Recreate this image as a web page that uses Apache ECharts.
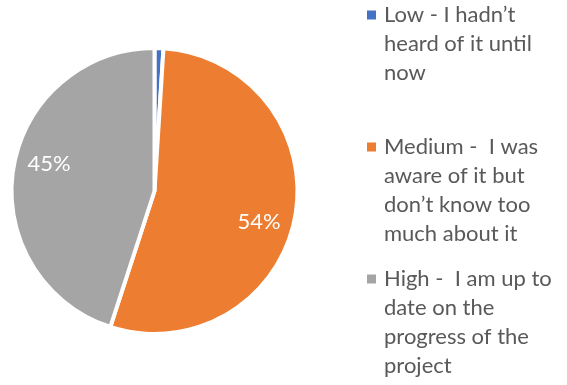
<!DOCTYPE html>
<html>
<head>
<meta charset="utf-8">
<script src="https://cdn.jsdelivr.net/npm/echarts@6/dist/echarts.min.js"></script>
<style>
  html, body { margin: 0; padding: 0; background: #ffffff; }
  #chart { width: 567px; height: 385px; }
</style>
</head>
<body>
<div id="chart"></div>
<script>
// Awareness categories, as worded in the legend
const categories = [
  'Low - I hadn\u2019t\nheard of it until\nnow',
  'Medium -  I was\naware of it but\ndon\u2019t know too\nmuch about it',
  'High -  I am up to\ndate on the\nprogress of the\nproject'
];
// Share of responses, percent
const shares = [1, 54, 45];
// Slice colours
const colors = ['#4472C4', '#ED7D31', '#A5A5A5'];
// Which slices carry a percentage label
const showPercent = [false, true, true];

const FONT = 'Lato';
const FONT_SIZE = 22;
const LINE_H = 29;
const legendTops = [4, 136, 268];

const chart = echarts.init(document.getElementById('chart'), null, { renderer: 'canvas' });

const pieData = categories.map((name, i) => ({
  name: name,
  value: shares[i],
  itemStyle: { color: colors[i] }
}));

const labelData = categories.map((name, i) => ({
  name: name,
  value: shares[i],
  label: { show: showPercent[i] }
}));

// One legend block per category so the marker sits beside the first line
const legends = categories.map((name, i) => {
  const lines = name.split('\n').length;
  return {
    data: [name],
    orient: 'vertical',
    left: 367,
    top: legendTops[i],
    padding: 0,
    itemWidth: 9,
    itemHeight: 9,
    icon: 'rect',
    itemStyle: { borderWidth: 0 },
    selectedMode: false,
    formatter: n => '{t|' + n + '}',
    textStyle: {
      fontFamily: FONT,
      fontSize: FONT_SIZE,
      color: '#595959',
      padding: [(lines - 1) * LINE_H, 0, 0, 3],
      rich: {
        t: { fontFamily: FONT, fontSize: FONT_SIZE, lineHeight: LINE_H, color: '#595959' }
      }
    }
  };
});

chart.setOption({
  animation: false,
  backgroundColor: '#ffffff',
  legend: legends,
  series: [
    {
      type: 'pie',
      center: [154.5, 191],
      radius: [0, 143],
      startAngle: 90,
      clockwise: true,
      silent: true,
      label: { show: false },
      labelLine: { show: false },
      emphasis: { disabled: true },
      itemStyle: { borderColor: '#ffffff', borderWidth: 4 },
      data: pieData
    },
    {
      // invisible ring that carries the percentage labels
      type: 'pie',
      center: [154.5, 191],
      radius: [69, 143],
      startAngle: 84.5,
      clockwise: true,
      silent: true,
      itemStyle: { color: 'rgba(0,0,0,0)', borderWidth: 0 },
      emphasis: { disabled: true },
      labelLine: { show: false },
      label: {
        show: true,
        position: 'inside',
        formatter: '{d}%',
        color: '#ffffff',
        fontFamily: FONT,
        fontSize: FONT_SIZE
      },
      data: labelData
    }
  ]
});
</script>
</body>
</html>
